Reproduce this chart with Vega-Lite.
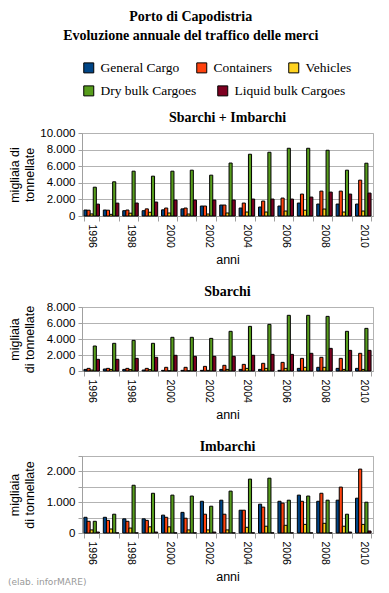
{
  "$schema": "https://vega.github.io/schema/vega-lite/v6.json",
  "background": "white",
  "padding": {"left": 8, "right": 6, "top": 10, "bottom": 2},
  "config": {
    "locale": {"number": {"decimal": ",", "thousands": ".", "grouping": [3], "currency": ["", " €"]}},
    "view": {"stroke": "#b3b3b3"},
    "title": {"font": "Liberation Serif", "fontSize": 14, "fontWeight": "bold", "color": "#000", "offset": 2},
    "axis": {"labelFont": "Liberation Sans", "labelFontSize": 11.5, "labelColor": "#000", "titleFont": "Liberation Sans", "titleFontSize": 12.5, "titleFontWeight": "normal", "titleColor": "#000", "domainColor": "#a0a0a0", "tickColor": "#a0a0a0", "gridColor": "#b3b3b3"},
    "axisX": {"labelAngle": 90, "labelFontSize": 10.5, "tickBand": "extent", "tickSize": 5, "labelPadding": 3, "grid": false, "titlePadding": 6},
    "axisY": {"tickSize": 4, "format": ",d", "labelPadding": 3, "titlePadding": 6, "minExtent": 40, "maxExtent": 40},
    "legend": {"labelFont": "Liberation Serif", "labelFontSize": 13.5, "labelColor": "#000", "symbolType": "square", "symbolSize": 100, "symbolStrokeColor": "#000", "symbolStrokeWidth": 1, "symbolOpacity": 1, "columnPadding": 20, "labelOffset": 5, "padding": 0}
  },
  "datasets": {
    "traffic": [
      {"panel":"T","year":1996,"series":"General Cargo","value":720},{"panel":"T","year":1996,"series":"Containers","value":700},{"panel":"T","year":1996,"series":"Vehicles","value":250},{"panel":"T","year":1996,"series":"Dry bulk Cargoes","value":3470},{"panel":"T","year":1996,"series":"Liquid bulk Cargoes","value":1430},
      {"panel":"T","year":1997,"series":"General Cargo","value":720},{"panel":"T","year":1997,"series":"Containers","value":700},{"panel":"T","year":1997,"series":"Vehicles","value":200},{"panel":"T","year":1997,"series":"Dry bulk Cargoes","value":4120},{"panel":"T","year":1997,"series":"Liquid bulk Cargoes","value":1550},
      {"panel":"T","year":1998,"series":"General Cargo","value":640},{"panel":"T","year":1998,"series":"Containers","value":720},{"panel":"T","year":1998,"series":"Vehicles","value":340},{"panel":"T","year":1998,"series":"Dry bulk Cargoes","value":5400},{"panel":"T","year":1998,"series":"Liquid bulk Cargoes","value":1560},
      {"panel":"T","year":1999,"series":"General Cargo","value":640},{"panel":"T","year":1999,"series":"Containers","value":860},{"panel":"T","year":1999,"series":"Vehicles","value":450},{"panel":"T","year":1999,"series":"Dry bulk Cargoes","value":4800},{"panel":"T","year":1999,"series":"Liquid bulk Cargoes","value":1680},
      {"panel":"T","year":2000,"series":"General Cargo","value":740},{"panel":"T","year":2000,"series":"Containers","value":960},{"panel":"T","year":2000,"series":"Vehicles","value":360},{"panel":"T","year":2000,"series":"Dry bulk Cargoes","value":5400},{"panel":"T","year":2000,"series":"Liquid bulk Cargoes","value":1920},
      {"panel":"T","year":2001,"series":"General Cargo","value":860},{"panel":"T","year":2001,"series":"Containers","value":960},{"panel":"T","year":2001,"series":"Vehicles","value":240},{"panel":"T","year":2001,"series":"Dry bulk Cargoes","value":5520},{"panel":"T","year":2001,"series":"Liquid bulk Cargoes","value":1920},
      {"panel":"T","year":2002,"series":"General Cargo","value":1200},{"panel":"T","year":2002,"series":"Containers","value":1200},{"panel":"T","year":2002,"series":"Vehicles","value":240},{"panel":"T","year":2002,"series":"Dry bulk Cargoes","value":4920},{"panel":"T","year":2002,"series":"Liquid bulk Cargoes","value":1920},
      {"panel":"T","year":2003,"series":"General Cargo","value":1320},{"panel":"T","year":2003,"series":"Containers","value":1320},{"panel":"T","year":2003,"series":"Vehicles","value":360},{"panel":"T","year":2003,"series":"Dry bulk Cargoes","value":6380},{"panel":"T","year":2003,"series":"Liquid bulk Cargoes","value":1920},
      {"panel":"T","year":2004,"series":"General Cargo","value":960},{"panel":"T","year":2004,"series":"Containers","value":1560},{"panel":"T","year":2004,"series":"Vehicles","value":480},{"panel":"T","year":2004,"series":"Dry bulk Cargoes","value":7440},{"panel":"T","year":2004,"series":"Liquid bulk Cargoes","value":2040},
      {"panel":"T","year":2005,"series":"General Cargo","value":1080},{"panel":"T","year":2005,"series":"Containers","value":1800},{"panel":"T","year":2005,"series":"Vehicles","value":480},{"panel":"T","year":2005,"series":"Dry bulk Cargoes","value":7680},{"panel":"T","year":2005,"series":"Liquid bulk Cargoes","value":2040},
      {"panel":"T","year":2006,"series":"General Cargo","value":1200},{"panel":"T","year":2006,"series":"Containers","value":2160},{"panel":"T","year":2006,"series":"Vehicles","value":600},{"panel":"T","year":2006,"series":"Dry bulk Cargoes","value":8160},{"panel":"T","year":2006,"series":"Liquid bulk Cargoes","value":2040},
      {"panel":"T","year":2007,"series":"General Cargo","value":1560},{"panel":"T","year":2007,"series":"Containers","value":2640},{"panel":"T","year":2007,"series":"Vehicles","value":700},{"panel":"T","year":2007,"series":"Dry bulk Cargoes","value":8160},{"panel":"T","year":2007,"series":"Liquid bulk Cargoes","value":2280},
      {"panel":"T","year":2008,"series":"General Cargo","value":1440},{"panel":"T","year":2008,"series":"Containers","value":3000},{"panel":"T","year":2008,"series":"Vehicles","value":840},{"panel":"T","year":2008,"series":"Dry bulk Cargoes","value":7920},{"panel":"T","year":2008,"series":"Liquid bulk Cargoes","value":2880},
      {"panel":"T","year":2009,"series":"General Cargo","value":1440},{"panel":"T","year":2009,"series":"Containers","value":3000},{"panel":"T","year":2009,"series":"Vehicles","value":480},{"panel":"T","year":2009,"series":"Dry bulk Cargoes","value":5520},{"panel":"T","year":2009,"series":"Liquid bulk Cargoes","value":2640},
      {"panel":"T","year":2010,"series":"General Cargo","value":1440},{"panel":"T","year":2010,"series":"Containers","value":4320},{"panel":"T","year":2010,"series":"Vehicles","value":600},{"panel":"T","year":2010,"series":"Dry bulk Cargoes","value":6360},{"panel":"T","year":2010,"series":"Liquid bulk Cargoes","value":2760},

      {"panel":"S","year":1996,"series":"General Cargo","value":200},{"panel":"S","year":1996,"series":"Containers","value":330},{"panel":"S","year":1996,"series":"Vehicles","value":120},{"panel":"S","year":1996,"series":"Dry bulk Cargoes","value":3125},{"panel":"S","year":1996,"series":"Liquid bulk Cargoes","value":1460},
      {"panel":"S","year":1997,"series":"General Cargo","value":250},{"panel":"S","year":1997,"series":"Containers","value":330},{"panel":"S","year":1997,"series":"Vehicles","value":200},{"panel":"S","year":1997,"series":"Dry bulk Cargoes","value":3460},{"panel":"S","year":1997,"series":"Liquid bulk Cargoes","value":1460},
      {"panel":"S","year":1998,"series":"General Cargo","value":200},{"panel":"S","year":1998,"series":"Containers","value":330},{"panel":"S","year":1998,"series":"Vehicles","value":170},{"panel":"S","year":1998,"series":"Dry bulk Cargoes","value":3830},{"panel":"S","year":1998,"series":"Liquid bulk Cargoes","value":1580},
      {"panel":"S","year":1999,"series":"General Cargo","value":120},{"panel":"S","year":1999,"series":"Containers","value":330},{"panel":"S","year":1999,"series":"Vehicles","value":170},{"panel":"S","year":1999,"series":"Dry bulk Cargoes","value":3460},{"panel":"S","year":1999,"series":"Liquid bulk Cargoes","value":1710},
      {"panel":"S","year":2000,"series":"General Cargo","value":80},{"panel":"S","year":2000,"series":"Containers","value":460},{"panel":"S","year":2000,"series":"Vehicles","value":40},{"panel":"S","year":2000,"series":"Dry bulk Cargoes","value":4210},{"panel":"S","year":2000,"series":"Liquid bulk Cargoes","value":1960},
      {"panel":"S","year":2001,"series":"General Cargo","value":80},{"panel":"S","year":2001,"series":"Containers","value":460},{"panel":"S","year":2001,"series":"Vehicles","value":40},{"panel":"S","year":2001,"series":"Dry bulk Cargoes","value":4210},{"panel":"S","year":2001,"series":"Liquid bulk Cargoes","value":1830},
      {"panel":"S","year":2002,"series":"General Cargo","value":80},{"panel":"S","year":2002,"series":"Containers","value":580},{"panel":"S","year":2002,"series":"Vehicles","value":80},{"panel":"S","year":2002,"series":"Dry bulk Cargoes","value":4080},{"panel":"S","year":2002,"series":"Liquid bulk Cargoes","value":1830},
      {"panel":"S","year":2003,"series":"General Cargo","value":200},{"panel":"S","year":2003,"series":"Containers","value":710},{"panel":"S","year":2003,"series":"Vehicles","value":200},{"panel":"S","year":2003,"series":"Dry bulk Cargoes","value":4960},{"panel":"S","year":2003,"series":"Liquid bulk Cargoes","value":1830},
      {"panel":"S","year":2004,"series":"General Cargo","value":200},{"panel":"S","year":2004,"series":"Containers","value":830},{"panel":"S","year":2004,"series":"Vehicles","value":330},{"panel":"S","year":2004,"series":"Dry bulk Cargoes","value":5580},{"panel":"S","year":2004,"series":"Liquid bulk Cargoes","value":1960},
      {"panel":"S","year":2005,"series":"General Cargo","value":200},{"panel":"S","year":2005,"series":"Containers","value":960},{"panel":"S","year":2005,"series":"Vehicles","value":330},{"panel":"S","year":2005,"series":"Dry bulk Cargoes","value":5830},{"panel":"S","year":2005,"series":"Liquid bulk Cargoes","value":2080},
      {"panel":"S","year":2006,"series":"General Cargo","value":80},{"panel":"S","year":2006,"series":"Containers","value":1080},{"panel":"S","year":2006,"series":"Vehicles","value":330},{"panel":"S","year":2006,"series":"Dry bulk Cargoes","value":6960},{"panel":"S","year":2006,"series":"Liquid bulk Cargoes","value":2080},
      {"panel":"S","year":2007,"series":"General Cargo","value":330},{"panel":"S","year":2007,"series":"Containers","value":1580},{"panel":"S","year":2007,"series":"Vehicles","value":460},{"panel":"S","year":2007,"series":"Dry bulk Cargoes","value":6960},{"panel":"S","year":2007,"series":"Liquid bulk Cargoes","value":2210},
      {"panel":"S","year":2008,"series":"General Cargo","value":460},{"panel":"S","year":2008,"series":"Containers","value":1710},{"panel":"S","year":2008,"series":"Vehicles","value":460},{"panel":"S","year":2008,"series":"Dry bulk Cargoes","value":6830},{"panel":"S","year":2008,"series":"Liquid bulk Cargoes","value":2830},
      {"panel":"S","year":2009,"series":"General Cargo","value":330},{"panel":"S","year":2009,"series":"Containers","value":1580},{"panel":"S","year":2009,"series":"Vehicles","value":200},{"panel":"S","year":2009,"series":"Dry bulk Cargoes","value":4960},{"panel":"S","year":2009,"series":"Liquid bulk Cargoes","value":2580},
      {"panel":"S","year":2010,"series":"General Cargo","value":330},{"panel":"S","year":2010,"series":"Containers","value":2210},{"panel":"S","year":2010,"series":"Vehicles","value":200},{"panel":"S","year":2010,"series":"Dry bulk Cargoes","value":5330},{"panel":"S","year":2010,"series":"Liquid bulk Cargoes","value":2580},

      {"panel":"I","year":1996,"series":"General Cargo","value":510},{"panel":"I","year":1996,"series":"Containers","value":380},{"panel":"I","year":1996,"series":"Vehicles","value":100},{"panel":"I","year":1996,"series":"Dry bulk Cargoes","value":380},{"panel":"I","year":1996,"series":"Liquid bulk Cargoes","value":30},
      {"panel":"I","year":1997,"series":"General Cargo","value":510},{"panel":"I","year":1997,"series":"Containers","value":410},{"panel":"I","year":1997,"series":"Vehicles","value":130},{"panel":"I","year":1997,"series":"Dry bulk Cargoes","value":610},{"panel":"I","year":1997,"series":"Liquid bulk Cargoes","value":5},
      {"panel":"I","year":1998,"series":"General Cargo","value":460},{"panel":"I","year":1998,"series":"Containers","value":380},{"panel":"I","year":1998,"series":"Vehicles","value":160},{"panel":"I","year":1998,"series":"Dry bulk Cargoes","value":1550},{"panel":"I","year":1998,"series":"Liquid bulk Cargoes","value":5},
      {"panel":"I","year":1999,"series":"General Cargo","value":460},{"panel":"I","year":1999,"series":"Containers","value":410},{"panel":"I","year":1999,"series":"Vehicles","value":200},{"panel":"I","year":1999,"series":"Dry bulk Cargoes","value":1290},{"panel":"I","year":1999,"series":"Liquid bulk Cargoes","value":30},
      {"panel":"I","year":2000,"series":"General Cargo","value":580},{"panel":"I","year":2000,"series":"Containers","value":510},{"panel":"I","year":2000,"series":"Vehicles","value":200},{"panel":"I","year":2000,"series":"Dry bulk Cargoes","value":1230},{"panel":"I","year":2000,"series":"Liquid bulk Cargoes","value":5},
      {"panel":"I","year":2001,"series":"General Cargo","value":670},{"panel":"I","year":2001,"series":"Containers","value":480},{"panel":"I","year":2001,"series":"Vehicles","value":100},{"panel":"I","year":2001,"series":"Dry bulk Cargoes","value":1200},{"panel":"I","year":2001,"series":"Liquid bulk Cargoes","value":5},
      {"panel":"I","year":2002,"series":"General Cargo","value":1030},{"panel":"I","year":2002,"series":"Containers","value":610},{"panel":"I","year":2002,"series":"Vehicles","value":100},{"panel":"I","year":2002,"series":"Dry bulk Cargoes","value":870},{"panel":"I","year":2002,"series":"Liquid bulk Cargoes","value":30},
      {"panel":"I","year":2003,"series":"General Cargo","value":1065},{"panel":"I","year":2003,"series":"Containers","value":610},{"panel":"I","year":2003,"series":"Vehicles","value":100},{"panel":"I","year":2003,"series":"Dry bulk Cargoes","value":1360},{"panel":"I","year":2003,"series":"Liquid bulk Cargoes","value":5},
      {"panel":"I","year":2004,"series":"General Cargo","value":740},{"panel":"I","year":2004,"series":"Containers","value":740},{"panel":"I","year":2004,"series":"Vehicles","value":185},{"panel":"I","year":2004,"series":"Dry bulk Cargoes","value":1750},{"panel":"I","year":2004,"series":"Liquid bulk Cargoes","value":5},
      {"panel":"I","year":2005,"series":"General Cargo","value":935},{"panel":"I","year":2005,"series":"Containers","value":840},{"panel":"I","year":2005,"series":"Vehicles","value":220},{"panel":"I","year":2005,"series":"Dry bulk Cargoes","value":1780},{"panel":"I","year":2005,"series":"Liquid bulk Cargoes","value":5},
      {"panel":"I","year":2006,"series":"General Cargo","value":1030},{"panel":"I","year":2006,"series":"Containers","value":970},{"panel":"I","year":2006,"series":"Vehicles","value":250},{"panel":"I","year":2006,"series":"Dry bulk Cargoes","value":1065},{"panel":"I","year":2006,"series":"Liquid bulk Cargoes","value":5},
      {"panel":"I","year":2007,"series":"General Cargo","value":1230},{"panel":"I","year":2007,"series":"Containers","value":1030},{"panel":"I","year":2007,"series":"Vehicles","value":280},{"panel":"I","year":2007,"series":"Dry bulk Cargoes","value":1200},{"panel":"I","year":2007,"series":"Liquid bulk Cargoes","value":5},
      {"panel":"I","year":2008,"series":"General Cargo","value":1030},{"panel":"I","year":2008,"series":"Containers","value":1290},{"panel":"I","year":2008,"series":"Vehicles","value":315},{"panel":"I","year":2008,"series":"Dry bulk Cargoes","value":1065},{"panel":"I","year":2008,"series":"Liquid bulk Cargoes","value":5},
      {"panel":"I","year":2009,"series":"General Cargo","value":1065},{"panel":"I","year":2009,"series":"Containers","value":1490},{"panel":"I","year":2009,"series":"Vehicles","value":220},{"panel":"I","year":2009,"series":"Dry bulk Cargoes","value":610},{"panel":"I","year":2009,"series":"Liquid bulk Cargoes","value":30},
      {"panel":"I","year":2010,"series":"General Cargo","value":1130},{"panel":"I","year":2010,"series":"Containers","value":2075},{"panel":"I","year":2010,"series":"Vehicles","value":280},{"panel":"I","year":2010,"series":"Dry bulk Cargoes","value":1000},{"panel":"I","year":2010,"series":"Liquid bulk Cargoes","value":65}
    ]
  },
  "data": {"name": "traffic"},
  "title": {"text": "(elab. inforMARE)", "orient": "bottom", "anchor": "start", "font": "DejaVu Sans", "fontSize": 9, "fontWeight": "normal", "color": "#999999", "offset": -5},
  "resolve": {"legend": {"color": "independent", "fill": "independent"}},
  "vconcat": [
    {
      "title": {"text": ["Porto di Capodistria", "Evoluzione annuale del traffico delle merci"], "font": "Liberation Serif", "fontSize": 14, "fontWeight": "bold", "lineHeight": 19, "anchor": "middle", "offset": 18},
      "spacing": 17,
      "vconcat": [
        {
          "title": {"text": "Sbarchi + Imbarchi"},
          "width": 291, "height": 83,
          "transform": [{"filter": "datum.panel == 'T'"}],
          "encoding": {
            "x": {"field": "year", "type": "ordinal", "title": "anni", "scale": {"paddingInner": 0.2, "paddingOuter": 0.1}, "axis": {"labelExpr": "datum.value % 2 == 0 ? datum.label : ''"}},
            "xOffset": {"field": "series", "type": "nominal", "scale": {"domain": ["General Cargo", "Containers", "Vehicles", "Dry bulk Cargoes", "Liquid bulk Cargoes"], "paddingInner": 0, "paddingOuter": 0}},
            "y": {"field": "value", "type": "quantitative", "scale": {"domain": [0, 10000], "nice": false}, "axis": {"values": [0, 2000, 4000, 6000, 8000, 10000], "title": ["migliaia di", "tonnellate"]}}
          },
          "layer": [
            {
              "transform": [{"filter": "indexof(['General Cargo','Containers','Vehicles'], datum.series) >= 0"}],
              "mark": {"type": "bar", "stroke": "#000", "strokeWidth": 1},
              "encoding": {"color": {"field": "series", "type": "nominal", "title": null, "scale": {"domain": ["General Cargo", "Containers", "Vehicles"], "range": ["#004586", "#ff420e", "#ffd320"]}, "legend": {"orient": "none", "legendX": 0, "legendY": -72, "direction": "horizontal", "columns": 3, "columnPadding": 14}}}
            },
            {
              "transform": [{"filter": "indexof(['Dry bulk Cargoes','Liquid bulk Cargoes'], datum.series) >= 0"}],
              "mark": {"type": "bar", "stroke": "#000", "strokeWidth": 1},
              "encoding": {"fill": {"field": "series", "type": "nominal", "title": null, "scale": {"domain": ["Dry bulk Cargoes", "Liquid bulk Cargoes"], "range": ["#579d1c", "#7e0021"]}, "legend": {"orient": "none", "legendX": 0, "legendY": -49, "direction": "horizontal", "columns": 2, "columnPadding": 18}}}
            }
          ]
        },
        {
          "title": {"text": "Sbarchi"},
          "width": 291, "height": 64,
          "transform": [{"filter": "datum.panel == 'S'"}],
          "encoding": {
            "x": {"field": "year", "type": "ordinal", "title": "anni", "scale": {"paddingInner": 0.2, "paddingOuter": 0.1}, "axis": {"labelExpr": "datum.value % 2 == 0 ? datum.label : ''"}},
            "xOffset": {"field": "series", "type": "nominal", "scale": {"domain": ["General Cargo", "Containers", "Vehicles", "Dry bulk Cargoes", "Liquid bulk Cargoes"], "paddingInner": 0, "paddingOuter": 0}},
            "y": {"field": "value", "type": "quantitative", "scale": {"domain": [0, 8000], "nice": false}, "axis": {"values": [0, 2000, 4000, 6000, 8000], "title": ["migliaia", "di tonnellate"]}}
          },
          "layer": [
            {
              "transform": [{"filter": "indexof(['General Cargo','Containers','Vehicles'], datum.series) >= 0"}],
              "mark": {"type": "bar", "stroke": "#000", "strokeWidth": 1},
              "encoding": {"color": {"field": "series", "type": "nominal", "title": null, "scale": {"domain": ["General Cargo", "Containers", "Vehicles"], "range": ["#004586", "#ff420e", "#ffd320"]}, "legend": {"orient": "none", "legendX": 0, "legendY": -72, "direction": "horizontal", "columns": 3, "columnPadding": 14}}}
            },
            {
              "transform": [{"filter": "indexof(['Dry bulk Cargoes','Liquid bulk Cargoes'], datum.series) >= 0"}],
              "mark": {"type": "bar", "stroke": "#000", "strokeWidth": 1},
              "encoding": {"fill": {"field": "series", "type": "nominal", "title": null, "scale": {"domain": ["Dry bulk Cargoes", "Liquid bulk Cargoes"], "range": ["#579d1c", "#7e0021"]}, "legend": {"orient": "none", "legendX": 0, "legendY": -49, "direction": "horizontal", "columns": 2, "columnPadding": 18}}}
            }
          ]
        },
        {
          "title": {"text": "Imbarchi"},
          "width": 291, "height": 77,
          "transform": [{"filter": "datum.panel == 'I'"}],
          "encoding": {
            "x": {"field": "year", "type": "ordinal", "title": "anni", "scale": {"paddingInner": 0.2, "paddingOuter": 0.1}, "axis": {"labelExpr": "datum.value % 2 == 0 ? datum.label : ''"}},
            "xOffset": {"field": "series", "type": "nominal", "scale": {"domain": ["General Cargo", "Containers", "Vehicles", "Dry bulk Cargoes", "Liquid bulk Cargoes"], "paddingInner": 0, "paddingOuter": 0}},
            "y": {"field": "value", "type": "quantitative", "scale": {"domain": [0, 2500], "nice": false}, "axis": {"values": [0, 500, 1000, 1500, 2000, 2500], "labelExpr": "datum.value % 1000 == 0 ? datum.label : ''", "title": ["migliaia", "di tonnellate"]}}
          },
          "layer": [
            {
              "transform": [{"filter": "indexof(['General Cargo','Containers','Vehicles'], datum.series) >= 0"}],
              "mark": {"type": "bar", "stroke": "#000", "strokeWidth": 1},
              "encoding": {"color": {"field": "series", "type": "nominal", "title": null, "scale": {"domain": ["General Cargo", "Containers", "Vehicles"], "range": ["#004586", "#ff420e", "#ffd320"]}, "legend": {"orient": "none", "legendX": 0, "legendY": -72, "direction": "horizontal", "columns": 3, "columnPadding": 14}}}
            },
            {
              "transform": [{"filter": "indexof(['Dry bulk Cargoes','Liquid bulk Cargoes'], datum.series) >= 0"}],
              "mark": {"type": "bar", "stroke": "#000", "strokeWidth": 1},
              "encoding": {"fill": {"field": "series", "type": "nominal", "title": null, "scale": {"domain": ["Dry bulk Cargoes", "Liquid bulk Cargoes"], "range": ["#579d1c", "#7e0021"]}, "legend": {"orient": "none", "legendX": 0, "legendY": -49, "direction": "horizontal", "columns": 2, "columnPadding": 18}}}
            }
          ]
        }
      ]
    }
  ]
}
